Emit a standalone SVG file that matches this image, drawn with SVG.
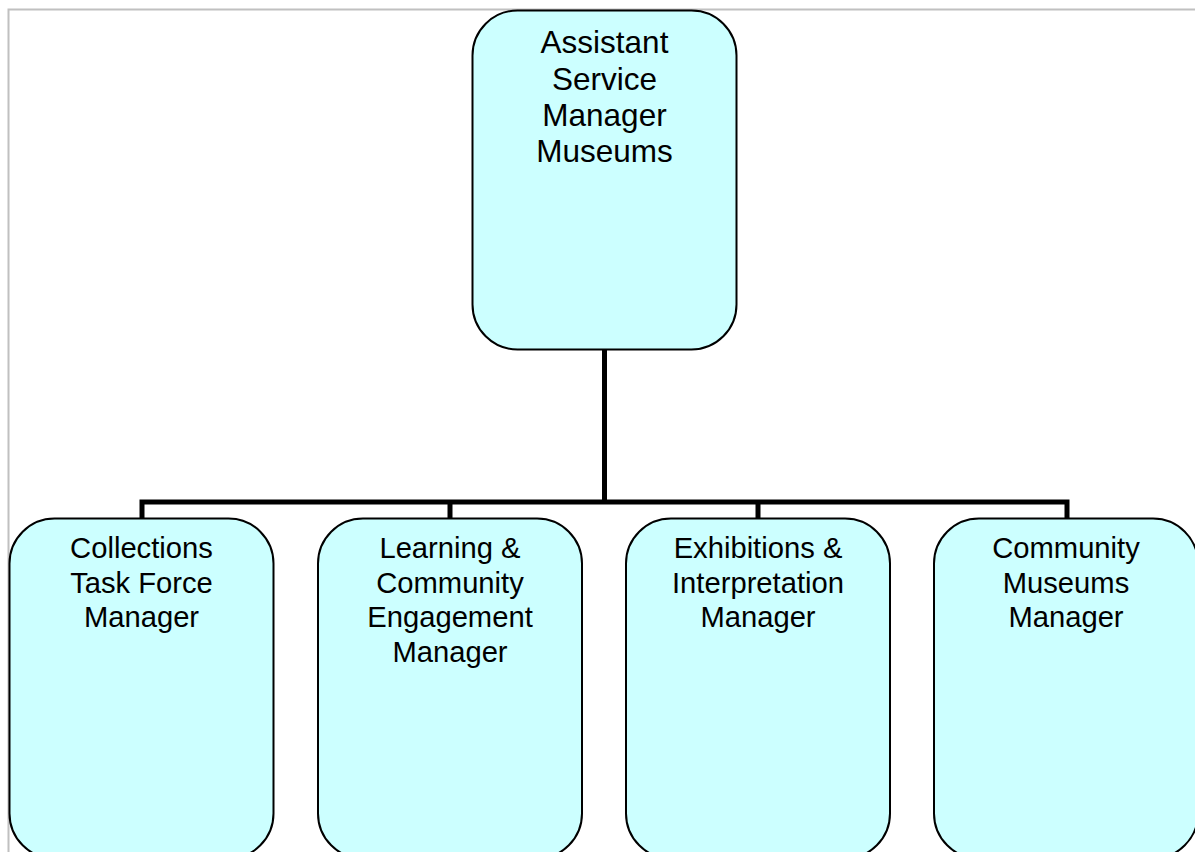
<svg xmlns="http://www.w3.org/2000/svg" width="1195" height="852" viewBox="0 0 1195 852">
<style>
.box{fill:#ccffff;stroke:#000;stroke-width:2}
.t{font-family:"Liberation Sans",Arial,sans-serif;fill:#000;text-anchor:middle}
.top{font-size:31.5px}
.sub{font-size:29.2px}
.con{stroke:#000;stroke-width:5;fill:none}
</style>
<rect x="0" y="0" width="1195" height="852" fill="#fff"/>
<path d="M8.5 852 V9.5 H1195" fill="none" stroke="#c0c0c0" stroke-width="2"/>
<g id="connectors">
<path class="con" d="M604.5 349 V502"/>
<path class="con" d="M142 518 V502 H1067 V518"/>
<path class="con" d="M450 502 V518"/>
<path class="con" d="M758 502 V518"/>
</g>
<g id="n0">
<rect class="box" x="472.5" y="10.5" width="264" height="339" rx="45" ry="45"/>
<text class="t top" x="604.5" y="53">Assistant</text>
<text class="t top" x="604.5" y="89.5">Service</text>
<text class="t top" x="604.5" y="126">Manager</text>
<text class="t top" x="604.5" y="162">Museums</text>
</g>
<g id="n1">
<rect class="box" x="9.5" y="518.5" width="264" height="340" rx="45" ry="45"/>
<text class="t sub" x="141.5" y="558">Collections</text>
<text class="t sub" x="141.5" y="592.5">Task Force</text>
<text class="t sub" x="141.5" y="627">Manager</text>
</g>
<g id="n2">
<rect class="box" x="318" y="518.5" width="264" height="340" rx="45" ry="45"/>
<text class="t sub" x="450" y="558">Learning &amp;</text>
<text class="t sub" x="450" y="592.5">Community</text>
<text class="t sub" x="450" y="627">Engagement</text>
<text class="t sub" x="450" y="661.5">Manager</text>
</g>
<g id="n3">
<rect class="box" x="626" y="518.5" width="264" height="340" rx="45" ry="45"/>
<text class="t sub" x="758" y="558">Exhibitions &amp;</text>
<text class="t sub" x="758" y="592.5">Interpretation</text>
<text class="t sub" x="758" y="627">Manager</text>
</g>
<g id="n4">
<rect class="box" x="934" y="518.5" width="264" height="340" rx="45" ry="45"/>
<text class="t sub" x="1066" y="558">Community</text>
<text class="t sub" x="1066" y="592.5">Museums</text>
<text class="t sub" x="1066" y="627">Manager</text>
</g>
</svg>
